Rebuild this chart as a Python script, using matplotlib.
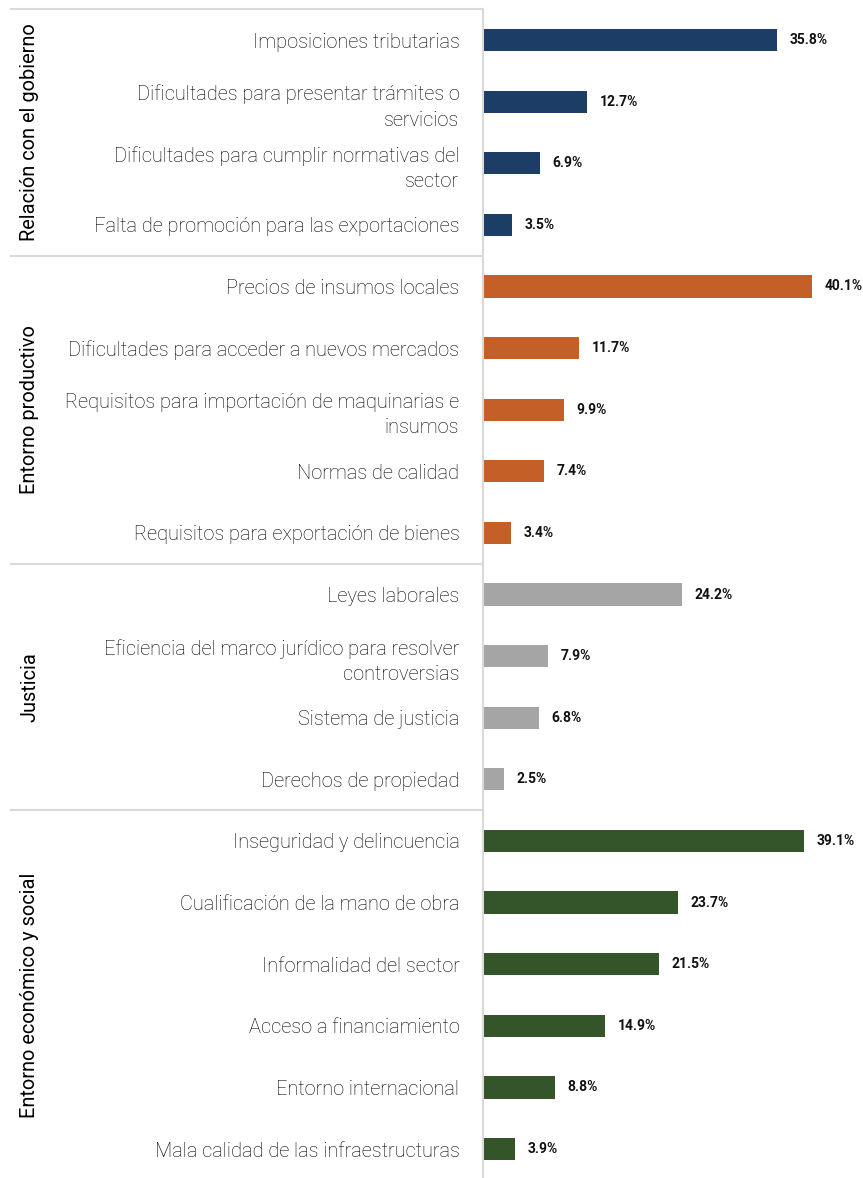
import matplotlib.pyplot as plt
from matplotlib.transforms import blended_transform_factory

plt.rcParams['font.family'] = ['Roboto', 'DejaVu Sans']

# groups, categories and values (%)
groups = ["Relación con el gobierno", "Entorno productivo", "Justicia",
          "Entorno económico y social"]
group_colors = ["#1c3d66", "#c55f28", "#a5a5a5", "#34552a"]

gob_labels = ["Imposiciones tributarias",
              "Dificultades para presentar trámites o\nservicios",
              "Dificultades para cumplir normativas del\nsector",
              "Falta de promoción para las exportaciones"]
gob_values = [35.8, 12.7, 6.9, 3.5]

prod_labels = ["Precios de insumos locales",
               "Dificultades para acceder a nuevos mercados",
               "Requisitos para importación de maquinarias e\ninsumos",
               "Normas de calidad",
               "Requisitos para exportación de bienes"]
prod_values = [40.1, 11.7, 9.9, 7.4, 3.4]

just_labels = ["Leyes laborales",
               "Eficiencia del marco jurídico para resolver\ncontroversias",
               "Sistema de justicia",
               "Derechos de propiedad"]
just_values = [24.2, 7.9, 6.8, 2.5]

eco_labels = ["Inseguridad y delincuencia",
              "Cualificación de la mano de obra",
              "Informalidad del sector",
              "Acceso a financiamiento",
              "Entorno internacional",
              "Mala calidad de las infraestructuras"]
eco_values = [39.1, 23.7, 21.5, 14.9, 8.8, 3.9]

all_labels = [gob_labels, prod_labels, just_labels, eco_labels]
all_values = [gob_values, prod_values, just_values, eco_values]

W, H = 863, 1178
fig = plt.figure(figsize=(W / 100, H / 100), dpi=100)
ax = fig.add_axes([483 / W, 0, 1 - 483 / W, 1 - 9.2 / H])

labels, values, colors, bounds = [], [], [], []
for g, (lab, val) in enumerate(zip(all_labels, all_values)):
    bounds.append(len(labels))
    labels += lab
    values += val
    colors += [group_colors[g]] * len(val)
bounds.append(len(labels))

ypos = list(range(len(labels)))
ax.barh(ypos, values, height=0.36, color=colors)
for y, v in zip(ypos, values):
    ax.annotate(f"{v:.1f}%", (v, y), xytext=(9, 0), textcoords="offset points",
                va="center", ha="left", fontsize=10, fontweight="bold", color="#111111")

ax.set_yticks(ypos)
ax.set_yticklabels(labels, fontsize=14.4, fontweight="light", linespacing=1.45,
                   color="#000000")
ax.tick_params(axis="y", length=0, pad=17)
ax.set_xticks([])
ax.set_xlim(0, 46.3)
ax.set_ylim(18.47, -0.5)
for s in ["top", "right", "bottom"]:
    ax.spines[s].set_visible(False)
ax.spines["left"].set_color("#d9d9d9")
ax.spines["left"].set_linewidth(1.5)

# group separators and labels
trans = blended_transform_factory(ax.transAxes, ax.transData)
x0 = (11 - 483) / (W - 483)
for g in range(len(groups)):
    ax.plot([x0, 0], [bounds[g] - 0.5] * 2, transform=trans, color="#d9d9d9",
            lw=1.5, clip_on=False)
    mid = (bounds[g] + bounds[g + 1] - 1) / 2
    ax.text((30 - 483) / (W - 483), mid, groups[g], transform=trans, rotation=90,
            ha="center", va="center", fontsize=14.4, color="#000000")

fig.savefig("out.png", dpi=100)
